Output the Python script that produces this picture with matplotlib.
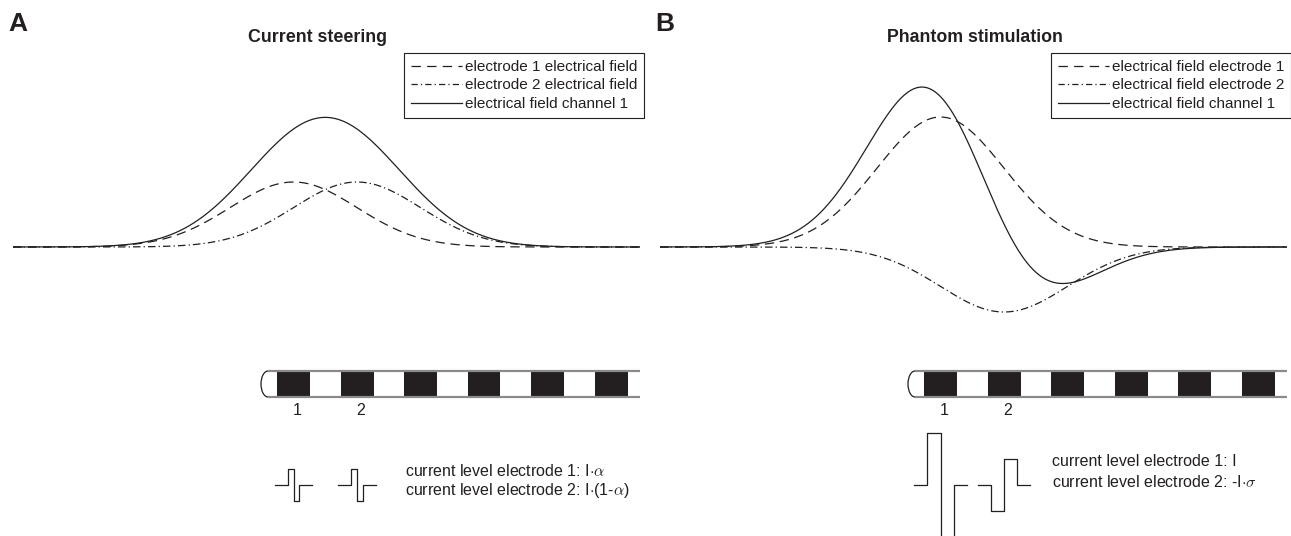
"""
Current steering vs. phantom stimulation schematic (two panels).
Field of each electrode is drawn as a gaussian around its contact,
the channel field is the scaled sum of the two.
"""
import matplotlib
matplotlib.use("Agg")
import matplotlib.pyplot as plt
import numpy as np
from matplotlib.patches import Rectangle, Arc
from matplotlib.lines import Line2D

plt.rcParams.update({
    "font.family": ["Liberation Sans", "DejaVu Sans"],
    "mathtext.fontset": "cm",
    "text.color": "#231f20",
})

W, H = 1291, 536
INK = "#231f20"

# ---- data -------------------------------------------------------------------
panel_letters = ["A", "B"]
panel_titles = ["Current steering", "Phantom stimulation"]
legend_labels = [
    ["electrode 1 electrical field", "electrode 2 electrical field",
     "electrical field channel 1"],
    ["electrical field electrode 1", "electrical field electrode 2",
     "electrical field channel 1"],
]
# current on electrode 1 and 2 (A: alpha = 0.5, B: I and -I*sigma, sigma = 0.5)
currents = [[0.5, 0.5], [1.0, -0.5]]
channel_gain = [1.13, 1.66]        # channel field = gain * (field1 + field2)
field_sigma = 1.0                  # spread of one electrode's field (pitches)
n_contacts = 6
contact_labels = ["1", "2"]
current_texts = [
    [r"current level electrode 1: I$\cdot\alpha$",
     r"current level electrode 2: I$\cdot$(1-$\alpha$)"],
    [r"current level electrode 1: I",
     r"current level electrode 2: -I$\cdot\sigma$"],
]

# ---- layout (pixels of panel A, panel B is shifted) ---------------------------
PANEL_DX = 647
E1_PX, PITCH_PX = 293.5, 63.5
AX_X0, AX_X1 = 13, 640
BASE_PX, UNIT_PX = 247, 130        # field zero line and height of 1 unit
CURVE_Y0, CURVE_Y1 = 40, 330
LOW_Y0, LOW_Y1 = 340, 536
TITLE_X = [318, 975]


def e_units(px):
    return 1 + (px - E1_PX) / PITCH_PX


def fig_rect(x0, y0, x1, y1):
    return [x0 / W, 1 - y1 / H, (x1 - x0) / W, (y1 - y0) / H]


def gauss(x, c, a):
    return a * np.exp(-(x - c) ** 2 / (2 * field_sigma ** 2))


fig = plt.figure(figsize=(W / 100, H / 100), dpi=100)

pulse_scale = [32, 52]             # px per unit current
pulse_phase = [0.087, 0.205]       # phase width (pitches)
pulse_lead = [0.21, 0.21]
text_y = [[471, 491], [462, 482]]

for p in range(2):
    ox = p * PANEL_DX
    xl, xr = e_units(AX_X0), e_units(AX_X1)

    # ---- field curves ----
    ax = fig.add_axes(fig_rect(AX_X0 + ox, CURVE_Y0, AX_X1 + ox, CURVE_Y1))
    ax.set_axis_off()
    ax.set_xlim(xl, xr)
    ax.set_ylim(-(CURVE_Y1 - BASE_PX) / UNIT_PX, (BASE_PX - CURVE_Y0) / UNIT_PX)
    x = np.linspace(xl, xr, 800)
    f1 = gauss(x, 1, currents[p][0])
    f2 = gauss(x, 2, currents[p][1])
    ch = channel_gain[p] * (f1 + f2)
    ax.plot(x, f1, color=INK, lw=0.9, dashes=(7.5, 4.5))
    ax.plot(x, f2, color=INK, lw=0.9, dashes=(6, 2.5, 1, 2.5))
    ax.plot(x, ch, color=INK, lw=0.9)

    h1 = Line2D([], [], color=INK, lw=0.9, dashes=(7.5, 5))
    h2 = Line2D([], [], color=INK, lw=0.9, dashes=(5, 2.5, 1, 2.5))
    h3 = Line2D([], [], color=INK, lw=0.9)
    leg = ax.legend([h1, h2, h3], legend_labels[p], loc="upper right",
                    bbox_to_anchor=((644 + ox) / W, 1 - 53 / H),
                    bbox_transform=fig.transFigure, fontsize=11,
                    handlelength=3.3, handletextpad=0.2, labelspacing=0.3,
                    borderpad=0.45, borderaxespad=0, fancybox=False,
                    framealpha=1)
    leg.get_frame().set_edgecolor(INK)
    leg.get_frame().set_linewidth(0.8)

    fig.text((8 + ox) / W, 1 - 24 / H, panel_letters[p], fontsize=19,
             fontweight="bold", ha="left", va="center")
    fig.text(TITLE_X[p] / W, 1 - 37 / H, panel_titles[p], fontsize=12.8,
             fontweight="bold", ha="center", va="center")

    # ---- electrode array and pulses ----
    lo = fig.add_axes(fig_rect(AX_X0 + ox, LOW_Y0, AX_X1 + ox, LOW_Y1))
    lo.set_axis_off()
    lo.set_xlim(xl, xr)
    lo.set_ylim(LOW_Y1, LOW_Y0)
    top, bot = 371, 397
    cap_x = e_units(268)
    lo.plot([cap_x, xr], [top, top], color="#8a8a8a", lw=1.6,
            solid_capstyle="butt", clip_on=False)
    lo.plot([cap_x, xr], [bot, bot], color="#8a8a8a", lw=1.6,
            solid_capstyle="butt", clip_on=False)
    lo.add_patch(Arc((cap_x, (top + bot) / 2), 2 * 7 / PITCH_PX, bot - top,
                     theta1=90, theta2=270, color=INK, lw=0.9))
    bw = 33 / PITCH_PX
    for k in range(n_contacts):
        lo.add_patch(Rectangle((1 + k - bw / 2, top), bw, bot - top,
                               facecolor=INK, edgecolor="none"))
    for k, lab in enumerate(contact_labels):
        lo.text(1 + k + 4 / PITCH_PX, 411, lab, fontsize=11.5,
                ha="center", va="center")

    base = 485
    w, lead, sc = pulse_phase[p], pulse_lead[p], pulse_scale[p]
    for k, a in enumerate(currents[p]):
        c = 1 + k
        xs = [c - w - lead, c - w, c - w, c, c, c + w, c + w, c + w + lead]
        ys = [0, 0, a, a, -a, -a, 0, 0]
        lo.plot(xs, [base - sc * v for v in ys], color=INK, lw=0.9,
                clip_on=False)

    for j, t in enumerate(current_texts[p]):
        lo.text(e_units(405), text_y[p][j], t, fontsize=11.5,
                ha="left", va="center")

fig.savefig("out.png", dpi=100)
